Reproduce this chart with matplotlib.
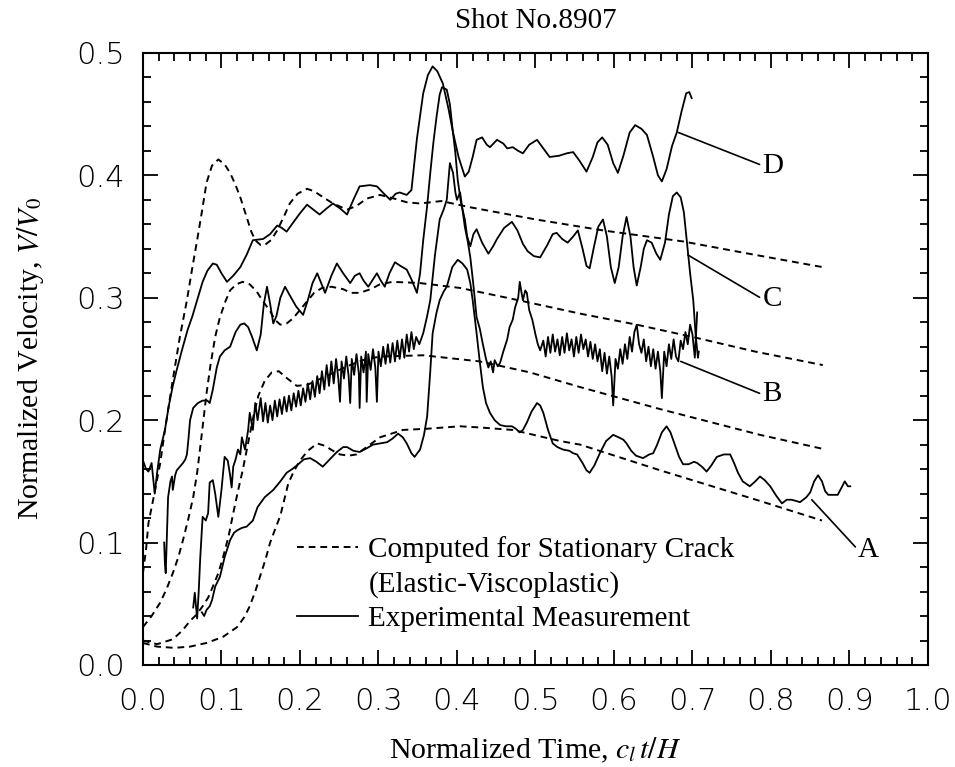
import matplotlib
matplotlib.use("Agg")
import matplotlib.pyplot as plt
from matplotlib.lines import Line2D
from matplotlib.ticker import MultipleLocator

plt.rcParams['mathtext.fontset'] = 'stix'

# computed (dashed) curves for the four gauges
d_comp_x = [0.0, 0.004, 0.007, 0.013, 0.022, 0.028, 0.038, 0.047, 0.056, 0.063, 0.069, 0.075, 0.081,
            0.088, 0.096, 0.104, 0.111, 0.118, 0.124, 0.132, 0.138, 0.143, 0.150, 0.155, 0.163, 0.171,
            0.180, 0.187, 0.197, 0.209, 0.218, 0.225, 0.242, 0.260, 0.272, 0.285, 0.302, 0.320, 0.336,
            0.353, 0.380, 0.416, 0.500, 0.586, 0.688, 0.780, 0.866]
d_comp_y = [0.075, 0.095, 0.116, 0.135, 0.165, 0.192, 0.233, 0.268, 0.298, 0.325, 0.347, 0.370, 0.394,
            0.408, 0.413, 0.409, 0.402, 0.392, 0.382, 0.366, 0.354, 0.347, 0.343, 0.343, 0.347, 0.355,
            0.367, 0.377, 0.385, 0.389, 0.387, 0.384, 0.377, 0.372, 0.375, 0.381, 0.384, 0.381, 0.378,
            0.377, 0.379, 0.374, 0.364, 0.355, 0.346, 0.335, 0.325]

c_comp_x = [0.0, 0.011, 0.022, 0.030, 0.038, 0.045, 0.051, 0.058, 0.064, 0.069, 0.073, 0.077, 0.081,
            0.086, 0.092, 0.098, 0.105, 0.111, 0.119, 0.127, 0.136, 0.145, 0.153, 0.162, 0.168, 0.175,
            0.183, 0.191, 0.200, 0.209, 0.218, 0.228, 0.240, 0.255, 0.265, 0.276, 0.290, 0.302, 0.318,
            0.353, 0.404, 0.471, 0.557, 0.629, 0.700, 0.780, 0.866]
c_comp_y = [0.031, 0.040, 0.051, 0.062, 0.075, 0.088, 0.102, 0.120, 0.137, 0.157, 0.178, 0.200, 0.222,
            0.245, 0.268, 0.284, 0.297, 0.306, 0.311, 0.313, 0.311, 0.305, 0.297, 0.289, 0.282, 0.278,
            0.279, 0.283, 0.290, 0.297, 0.304, 0.308, 0.309, 0.307, 0.304, 0.304, 0.307, 0.311, 0.313,
            0.312, 0.308, 0.299, 0.287, 0.278, 0.268, 0.256, 0.245]

b_comp_x = [0.0, 0.018, 0.038, 0.050, 0.060, 0.068, 0.076, 0.083, 0.089, 0.096, 0.102, 0.109, 0.115,
            0.121, 0.127, 0.132, 0.136, 0.141, 0.147, 0.155, 0.164, 0.173, 0.182, 0.196, 0.210, 0.230,
            0.260, 0.280, 0.302, 0.357, 0.429, 0.493, 0.557, 0.659, 0.786, 0.870]
b_comp_y = [0.020, 0.017, 0.021, 0.028, 0.036, 0.041, 0.048, 0.055, 0.064, 0.075, 0.088, 0.105, 0.124,
            0.142, 0.159, 0.175, 0.188, 0.204, 0.220, 0.232, 0.239, 0.240, 0.235, 0.228, 0.229, 0.235,
            0.244, 0.249, 0.252, 0.253, 0.248, 0.239, 0.227, 0.209, 0.188, 0.176]

a_comp_x = [0.0, 0.018, 0.040, 0.060, 0.081, 0.102, 0.120, 0.129, 0.136, 0.143, 0.149, 0.156, 0.162,
            0.169, 0.175, 0.180, 0.185, 0.192, 0.200, 0.210, 0.222, 0.232, 0.242, 0.251, 0.262, 0.272,
            0.287, 0.302, 0.331, 0.362, 0.404, 0.430, 0.471, 0.531, 0.557, 0.659, 0.786, 0.865]
a_comp_y = [0.018, 0.015, 0.014, 0.015, 0.018, 0.023, 0.031, 0.039, 0.048, 0.060, 0.072, 0.086, 0.100,
            0.112, 0.122, 0.135, 0.148, 0.158, 0.167, 0.175, 0.181, 0.179, 0.175, 0.172, 0.171, 0.172,
            0.179, 0.186, 0.192, 0.193, 0.195, 0.194, 0.192, 0.183, 0.180, 0.159, 0.134, 0.118]

# experimental (solid) records
d_exp_x = [0.0, 0.004, 0.007, 0.011, 0.015, 0.018, 0.022, 0.028, 0.033, 0.038, 0.043, 0.050, 0.057,
           0.063, 0.069, 0.076, 0.082, 0.089, 0.094, 0.100, 0.107, 0.115, 0.124, 0.132, 0.140, 0.153,
           0.162, 0.171, 0.177, 0.183, 0.192, 0.200, 0.209, 0.217, 0.225, 0.234, 0.242, 0.251, 0.260,
           0.268, 0.276, 0.289, 0.298, 0.307, 0.315, 0.322, 0.327, 0.336, 0.342, 0.349, 0.357, 0.363,
           0.369, 0.375, 0.382, 0.389, 0.395, 0.402, 0.410, 0.415, 0.420, 0.425, 0.432, 0.438, 0.442,
           0.451, 0.459, 0.464, 0.471, 0.478, 0.484, 0.492, 0.502, 0.510, 0.518, 0.530, 0.540, 0.548,
           0.556, 0.565, 0.573, 0.579, 0.585, 0.592, 0.599, 0.605, 0.612, 0.620, 0.627, 0.635, 0.642,
           0.650, 0.656, 0.661, 0.667, 0.674, 0.680, 0.686, 0.692, 0.696, 0.699]
d_exp_y = [0.167, 0.160, 0.158, 0.165, 0.140, 0.157, 0.176, 0.192, 0.212, 0.228, 0.241, 0.258, 0.274,
           0.285, 0.298, 0.313, 0.322, 0.328, 0.327, 0.320, 0.313, 0.318, 0.325, 0.335, 0.347, 0.348,
           0.352, 0.359, 0.357, 0.354, 0.362, 0.369, 0.376, 0.372, 0.368, 0.373, 0.377, 0.373, 0.368,
           0.380, 0.391, 0.392, 0.391, 0.385, 0.380, 0.385, 0.386, 0.384, 0.388, 0.430, 0.467, 0.482,
           0.489, 0.485, 0.475, 0.455, 0.435, 0.415, 0.399, 0.403, 0.415, 0.429, 0.431, 0.425, 0.423,
           0.429, 0.426, 0.422, 0.423, 0.420, 0.418, 0.425, 0.429, 0.422, 0.415, 0.416, 0.418, 0.419,
           0.412, 0.403, 0.415, 0.427, 0.431, 0.425, 0.410, 0.402, 0.416, 0.435, 0.441, 0.438, 0.433,
           0.415, 0.400, 0.395, 0.405, 0.424, 0.435, 0.452, 0.467, 0.468, 0.463]

c_exp_x = [0.027, 0.028, 0.029, 0.031, 0.032, 0.035, 0.037, 0.038, 0.041, 0.043, 0.047, 0.051, 0.054,
           0.056, 0.058, 0.060, 0.064, 0.070, 0.076, 0.082, 0.085, 0.089, 0.094, 0.098, 0.104, 0.111,
           0.118, 0.124, 0.129, 0.134, 0.139, 0.145, 0.150, 0.154, 0.158, 0.162, 0.166, 0.170, 0.175,
           0.181, 0.187, 0.195, 0.204, 0.210, 0.216, 0.222, 0.227, 0.232, 0.240, 0.247, 0.255, 0.264,
           0.270, 0.276, 0.281, 0.287, 0.292, 0.298, 0.303, 0.308, 0.314, 0.321, 0.328, 0.336, 0.342,
           0.349, 0.353, 0.357, 0.362, 0.366, 0.370, 0.374, 0.378, 0.381, 0.387, 0.391, 0.394, 0.398,
           0.401, 0.405, 0.410, 0.413, 0.417, 0.421, 0.425, 0.432, 0.440, 0.446, 0.451, 0.460, 0.470,
           0.477, 0.484, 0.490, 0.498, 0.506, 0.515, 0.522, 0.527, 0.534, 0.541, 0.548, 0.554, 0.560,
           0.565, 0.569, 0.574, 0.580, 0.586, 0.591, 0.596, 0.601, 0.606, 0.611, 0.616, 0.621, 0.625,
           0.629, 0.634, 0.638, 0.642, 0.648, 0.654, 0.659, 0.665, 0.670, 0.675, 0.680, 0.685, 0.689,
           0.693, 0.697, 0.701, 0.704, 0.707, 0.708]
c_exp_y = [0.100, 0.082, 0.075, 0.115, 0.137, 0.150, 0.154, 0.143, 0.155, 0.159, 0.162, 0.165, 0.168,
           0.172, 0.185, 0.200, 0.210, 0.214, 0.216, 0.216, 0.214, 0.225, 0.243, 0.252, 0.257, 0.260,
           0.272, 0.278, 0.279, 0.276, 0.268, 0.257, 0.270, 0.295, 0.309, 0.295, 0.279, 0.285, 0.300,
           0.309, 0.302, 0.293, 0.286, 0.298, 0.312, 0.320, 0.312, 0.304, 0.318, 0.328, 0.320, 0.312,
           0.318, 0.320, 0.314, 0.309, 0.314, 0.320, 0.314, 0.309, 0.320, 0.329, 0.326, 0.323, 0.315,
           0.304, 0.320, 0.347, 0.375, 0.402, 0.427, 0.448, 0.466, 0.472, 0.470, 0.458, 0.440, 0.418,
           0.396, 0.378, 0.364, 0.350, 0.342, 0.352, 0.356, 0.345, 0.336, 0.342, 0.348, 0.357, 0.362,
           0.355, 0.344, 0.338, 0.334, 0.333, 0.343, 0.352, 0.353, 0.348, 0.345, 0.350, 0.355, 0.340,
           0.326, 0.324, 0.340, 0.358, 0.364, 0.350, 0.325, 0.312, 0.325, 0.350, 0.366, 0.350, 0.325,
           0.310, 0.325, 0.340, 0.347, 0.345, 0.336, 0.331, 0.345, 0.368, 0.383, 0.386, 0.382, 0.370,
           0.345, 0.320, 0.298, 0.270, 0.251, 0.256]

b_exp_x = [0.064, 0.066, 0.068, 0.069, 0.071, 0.073, 0.075, 0.076, 0.080, 0.083, 0.085, 0.089, 0.092,
           0.096, 0.100, 0.104, 0.108, 0.111, 0.113, 0.115, 0.118, 0.121, 0.124, 0.126, 0.130, 0.134,
           0.136, 0.140, 0.143, 0.146, 0.150, 0.153, 0.156, 0.159, 0.162, 0.165, 0.168, 0.171, 0.174,
           0.177, 0.180, 0.183, 0.186, 0.189, 0.192, 0.195, 0.198, 0.201, 0.204, 0.207, 0.210, 0.213,
           0.216, 0.219, 0.222, 0.225, 0.228, 0.231, 0.234, 0.237, 0.240, 0.243, 0.246, 0.249, 0.251,
           0.253, 0.256, 0.259, 0.262, 0.264, 0.266, 0.269, 0.272, 0.275, 0.276, 0.278, 0.281, 0.284,
           0.285, 0.287, 0.290, 0.293, 0.296, 0.298, 0.300, 0.303, 0.306, 0.309, 0.312, 0.315, 0.318,
           0.321, 0.324, 0.327, 0.330, 0.333, 0.336, 0.339, 0.342, 0.345, 0.348, 0.352, 0.357, 0.362,
           0.366, 0.372, 0.378, 0.383, 0.387, 0.391, 0.395, 0.398, 0.400, 0.404, 0.407, 0.410, 0.414,
           0.417, 0.421, 0.425, 0.429, 0.433, 0.437, 0.440, 0.443, 0.446, 0.448, 0.452, 0.455, 0.459,
           0.464, 0.467, 0.471, 0.474, 0.478, 0.480, 0.482, 0.484, 0.487, 0.489, 0.492, 0.496, 0.500,
           0.503, 0.506, 0.510, 0.513, 0.516, 0.519, 0.522, 0.525, 0.528, 0.531, 0.534, 0.537, 0.540,
           0.543, 0.546, 0.549, 0.552, 0.555, 0.558, 0.561, 0.564, 0.567, 0.570, 0.573, 0.576, 0.579,
           0.582, 0.585, 0.588, 0.591, 0.594, 0.597, 0.599, 0.602, 0.605, 0.608, 0.611, 0.614, 0.617,
           0.620, 0.623, 0.626, 0.629, 0.632, 0.635, 0.638, 0.641, 0.644, 0.647, 0.650, 0.653, 0.656,
           0.659, 0.661, 0.664, 0.667, 0.670, 0.673, 0.676, 0.679, 0.682, 0.685, 0.688, 0.691, 0.694,
           0.697, 0.700, 0.703, 0.706]
b_exp_y = [0.047, 0.059, 0.045, 0.038, 0.060, 0.088, 0.110, 0.121, 0.118, 0.124, 0.149, 0.151, 0.140,
           0.121, 0.143, 0.170, 0.167, 0.155, 0.145, 0.162, 0.168, 0.176, 0.172, 0.186, 0.176, 0.192,
           0.206, 0.192, 0.214, 0.200, 0.218, 0.199, 0.214, 0.198, 0.212, 0.200, 0.216, 0.203, 0.217,
           0.205, 0.219, 0.207, 0.220, 0.208, 0.222, 0.211, 0.224, 0.212, 0.226, 0.215, 0.230, 0.217,
           0.232, 0.219, 0.236, 0.222, 0.240, 0.225, 0.245, 0.228, 0.248, 0.230, 0.250, 0.233, 0.215,
           0.248, 0.234, 0.252, 0.236, 0.214, 0.250, 0.237, 0.254, 0.238, 0.210, 0.252, 0.239, 0.256,
           0.215, 0.254, 0.241, 0.258, 0.243, 0.215, 0.256, 0.244, 0.260, 0.246, 0.262, 0.247, 0.263,
           0.248, 0.265, 0.250, 0.266, 0.251, 0.270, 0.256, 0.272, 0.258, 0.268, 0.262, 0.271, 0.285,
           0.298, 0.335, 0.364, 0.372, 0.380, 0.410, 0.402, 0.386, 0.380, 0.386, 0.372, 0.358, 0.345,
           0.333, 0.310, 0.284, 0.275, 0.262, 0.250, 0.243, 0.248, 0.239, 0.249, 0.244, 0.247, 0.256,
           0.266, 0.276, 0.282, 0.292, 0.300, 0.313, 0.305, 0.298, 0.306, 0.304, 0.290, 0.282, 0.270,
           0.262, 0.257, 0.265, 0.252, 0.268, 0.255, 0.270, 0.256, 0.266, 0.253, 0.268, 0.255, 0.271,
           0.257, 0.266, 0.252, 0.268, 0.255, 0.270, 0.258, 0.266, 0.252, 0.264, 0.250, 0.262, 0.248,
           0.258, 0.240, 0.255, 0.238, 0.252, 0.236, 0.212, 0.250, 0.242, 0.258, 0.246, 0.262, 0.250,
           0.268, 0.256, 0.272, 0.278, 0.262, 0.255, 0.266, 0.248, 0.260, 0.244, 0.258, 0.242, 0.256,
           0.240, 0.218, 0.256, 0.244, 0.262, 0.250, 0.266, 0.252, 0.248, 0.265, 0.258, 0.272, 0.262,
           0.278, 0.270, 0.251, 0.288]

a_exp_x = [0.075, 0.078, 0.081, 0.085, 0.088, 0.092, 0.098, 0.104, 0.111, 0.116, 0.120, 0.126, 0.132,
           0.140, 0.146, 0.155, 0.166, 0.175, 0.183, 0.190, 0.196, 0.205, 0.213, 0.221, 0.229, 0.238,
           0.247, 0.255, 0.260, 0.268, 0.276, 0.285, 0.293, 0.302, 0.311, 0.318, 0.325, 0.331, 0.336,
           0.342, 0.346, 0.353, 0.358, 0.362, 0.366, 0.369, 0.374, 0.378, 0.383, 0.387, 0.394, 0.401,
           0.407, 0.413, 0.417, 0.420, 0.425, 0.429, 0.433, 0.437, 0.442, 0.448, 0.455, 0.462, 0.470,
           0.475, 0.480, 0.484, 0.489, 0.495, 0.502, 0.506, 0.510, 0.516, 0.522, 0.528, 0.535, 0.543,
           0.548, 0.553, 0.560, 0.565, 0.569, 0.575, 0.582, 0.590, 0.599, 0.606, 0.612, 0.616, 0.622,
           0.628, 0.637, 0.645, 0.650, 0.655, 0.661, 0.667, 0.672, 0.677, 0.683, 0.688, 0.695, 0.702,
           0.706, 0.712, 0.718, 0.724, 0.731, 0.740, 0.748, 0.753, 0.758, 0.764, 0.773, 0.780, 0.786,
           0.792, 0.799, 0.807, 0.814, 0.820, 0.826, 0.832, 0.837, 0.845, 0.850, 0.855, 0.860, 0.865,
           0.869, 0.873, 0.879, 0.885, 0.890, 0.894, 0.898, 0.901]
a_exp_y = [0.043, 0.040, 0.045, 0.048, 0.053, 0.064, 0.072, 0.088, 0.102, 0.108, 0.110, 0.112, 0.113,
           0.118, 0.129, 0.137, 0.143, 0.150, 0.157, 0.160, 0.163, 0.168, 0.169, 0.166, 0.162, 0.168,
           0.174, 0.178, 0.178, 0.175, 0.174, 0.177, 0.180, 0.181, 0.182, 0.185, 0.189, 0.186, 0.181,
           0.173, 0.170, 0.176, 0.188, 0.203, 0.240, 0.271, 0.288, 0.298, 0.305, 0.309, 0.325, 0.331,
           0.328, 0.323, 0.312, 0.298, 0.271, 0.248, 0.227, 0.214, 0.206, 0.200, 0.196, 0.195, 0.195,
           0.193, 0.190, 0.192, 0.198, 0.207, 0.214, 0.212, 0.206, 0.192, 0.181, 0.178, 0.176, 0.175,
           0.173, 0.172, 0.165, 0.159, 0.157, 0.163, 0.173, 0.183, 0.188, 0.186, 0.184, 0.181, 0.175,
           0.171, 0.169, 0.172, 0.173, 0.180, 0.190, 0.195, 0.190, 0.181, 0.170, 0.164, 0.164, 0.166,
           0.165, 0.162, 0.158, 0.163, 0.170, 0.172, 0.172, 0.165, 0.157, 0.150, 0.146, 0.150, 0.154,
           0.151, 0.146, 0.138, 0.132, 0.135, 0.135, 0.134, 0.133, 0.137, 0.141, 0.150, 0.155, 0.150,
           0.142, 0.139, 0.139, 0.139, 0.145, 0.150, 0.146, 0.146]

gauge_labels = ['A', 'B', 'C', 'D']

serif = 'Liberation Serif'
dash = (0, (3.5, 2.5))

fig = plt.figure(figsize=(9.55, 7.67), dpi=100)
ax = fig.add_axes([0.1497, 0.133, 0.822, 0.798])

for xs, ys in [(d_comp_x, d_comp_y), (c_comp_x, c_comp_y), (b_comp_x, b_comp_y), (a_comp_x, a_comp_y)]:
    ax.plot(xs, ys, color='black', lw=1.4, ls=dash)
for xs, ys in [(d_exp_x, d_exp_y), (c_exp_x, c_exp_y), (b_exp_x, b_exp_y), (a_exp_x, a_exp_y)]:
    ax.plot(xs, ys, color='black', lw=1.3)

# leader lines to the gauge letters
leaders = {'D': ((0.682, 0.435), (0.789, 0.408)),
           'C': ((0.694, 0.335), (0.789, 0.299)),
           'B': ((0.685, 0.248), (0.789, 0.221)),
           'A': ((0.852, 0.135), (0.911, 0.094))}
for lab in gauge_labels:
    tip, txt = leaders[lab]
    ax.annotate(lab, xy=tip, xytext=txt, fontsize=21, family=serif,
                ha='left', va='center',
                arrowprops=dict(arrowstyle='-', color='black', lw=1.2,
                                shrinkA=0, shrinkB=0, relpos=(0, 0.5)))

handles = [Line2D([], [], color='black', lw=1.4, ls=dash),
           Line2D([], [], ls='none'),
           Line2D([], [], color='black', lw=1.3)]
labels = ['Computed for Stationary Crack', '(Elastic-Viscoplastic)', 'Experimental Measurement']
leg = ax.legend(handles, labels, loc='upper left', bbox_to_anchor=(0.196, 0.211),
                frameon=False, borderpad=0, borderaxespad=0, handlelength=2.1,
                handletextpad=0.35, labelspacing=0.27, prop={'family': serif, 'size': 21})

ax.set_xlim(0, 1.0)
ax.set_ylim(0, 0.5)
ax.xaxis.set_major_locator(MultipleLocator(0.1))
ax.xaxis.set_minor_locator(MultipleLocator(0.02))
ax.yaxis.set_major_locator(MultipleLocator(0.1))
ax.yaxis.set_minor_locator(MultipleLocator(0.02))
ax.tick_params(which='both', direction='in', top=True, right=True, width=1.3)
ax.tick_params(which='major', length=11)
ax.tick_params(which='minor', length=6)
ax.tick_params(axis='x', which='major', pad=16)
ax.tick_params(axis='y', which='major', pad=13)
for t in ax.get_xticklabels() + ax.get_yticklabels():
    t.set_fontsize(22)
    t.set_fontweight('light')
ax.xaxis.set_major_formatter(matplotlib.ticker.FormatStrFormatter('%.1f'))
ax.yaxis.set_major_formatter(matplotlib.ticker.FormatStrFormatter('%.1f'))
for sp in ax.spines.values():
    sp.set_linewidth(1.5)

ax.set_xlabel('Normalized Time, $c_l\\,t/H$', fontsize=21.5, family=serif, labelpad=14)
ax.set_ylabel('Normalized Velocity, $V/V_0$', fontsize=21.5, family=serif, labelpad=22)
ax.set_title('Shot No.8907', fontsize=21, family=serif, pad=18)

fig.savefig('out.png', dpi=100)
